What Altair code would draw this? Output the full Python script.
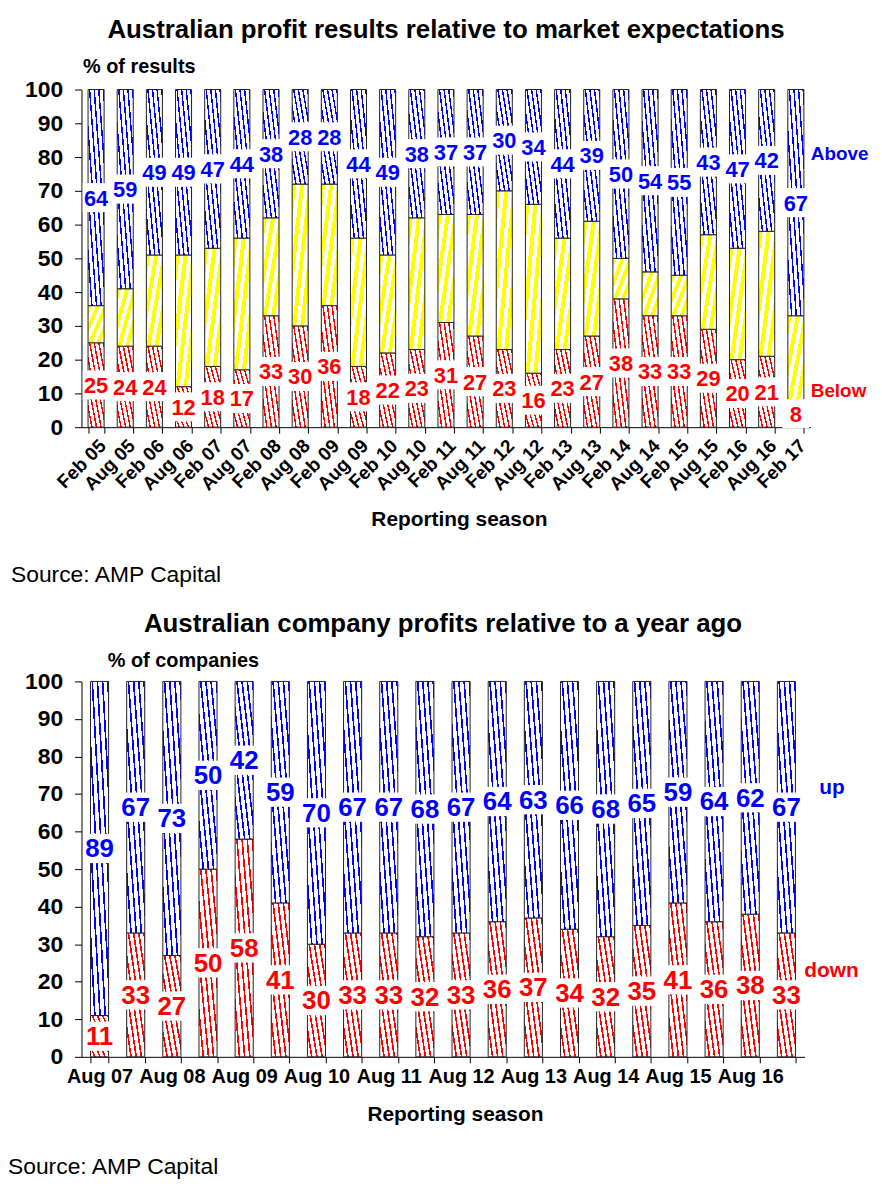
import altair as alt
import pandas as pd

FONT = "Liberation Sans"
BLUE = "#0000FF"
RED = "#FF0000"
YELLOW = "#FFFF00"

# ---------------- data: top chart ----------------
top_seasons = ["Feb 05", "Aug 05", "Feb 06", "Aug 06", "Feb 07", "Aug 07", "Feb 08",
               "Aug 08", "Feb 09", "Aug 09", "Feb 10", "Aug 10", "Feb 11", "Aug 11",
               "Feb 12", "Aug 12", "Feb 13", "Aug 13", "Feb 14", "Aug 14", "Feb 15",
               "Aug 15", "Feb 16", "Aug 16", "Feb 17"]
top_below = [25, 24, 24, 12, 18, 17, 33, 30, 36, 18, 22, 23, 31, 27, 23, 16, 23, 27,
             38, 33, 33, 29, 20, 21, 8]
top_inline = [11, 17, 27, 39, 35, 39, 29, 42, 36, 38, 29, 39, 32, 36, 47, 50, 33, 34,
              12, 13, 12, 28, 33, 37, 25]
top_above = [64, 59, 49, 49, 47, 44, 38, 28, 28, 44, 49, 38, 37, 37, 30, 34, 44, 39,
             50, 54, 55, 43, 47, 42, 67]

# ---------------- data: bottom chart ----------------
bot_seasons = ["Aug 07", "Feb 08", "Aug 08", "Feb 09", "Aug 09", "Feb 10", "Aug 10",
               "Feb 11", "Aug 11", "Feb 12", "Aug 12", "Feb 13", "Aug 13", "Feb 14",
               "Aug 14", "Feb 15", "Aug 15", "Feb 16", "Aug 16", "Feb 17"]
bot_down = [11, 33, 27, 50, 58, 41, 30, 33, 33, 32, 33, 36, 37, 34, 32, 35, 41, 36, 38, 33]
bot_up = [89, 67, 73, 50, 42, 59, 70, 67, 67, 68, 67, 64, 63, 66, 68, 65, 59, 64, 62, 67]

top_df = pd.DataFrame({"season": top_seasons, "below": top_below,
                       "inline": top_inline, "above": top_above})
bot_df = pd.DataFrame({"season": bot_seasons, "down": bot_down, "up": bot_up})


def hatch(color, n, frac, slash):
    stops = []
    for k in range(n):
        a = k / n
        b = (k + frac) / n
        c = (k + 1) / n
        stops += [{"offset": a, "color": color}, {"offset": b, "color": color},
                  {"offset": b, "color": "white"}, {"offset": c, "color": "white"}]
    if slash:
        x1, y1, x2, y2 = 0, 0, 1, 1
    else:
        x1, y1, x2, y2 = 1, 0, 0, 1
    return {"gradient": "linear", "x1": x1, "y1": y1, "x2": x2, "y2": y2, "stops": stops}


BLUE_H = hatch(BLUE, 7, 0.32, False)
RED_H = hatch(RED, 7, 0.32, False)
YEL_H = hatch(YELLOW, 4, 0.5, True)


def y_axis(title, tx, ty):
    return alt.Axis(values=list(range(0, 101, 10)), grid=False, labelFont=FONT,
                    labelFontSize=23, labelFontWeight="bold", labelColor="black",
                    tickSize=7, labelPadding=12, domainColor="black", tickColor="black",
                    title=title, titleAngle=0, titleAlign="left", titleBaseline="alphabetic",
                    titleX=tx, titleY=ty, titleFont=FONT, titleFontSize=20,
                    titleFontWeight="bold", titleColor="black")


# ================= TOP CHART =================
TW, TH = 734, 340
tx_scale = alt.Scale(domain=top_seasons, paddingInner=0.45, paddingOuter=0.225)
tx_axis = alt.Axis(labelAngle=-45, labelFont=FONT, labelFontSize=19, labelFontWeight="bold",
                   labelColor="black", tickBand="extent", tickSize=6, labelPadding=3,
                   domainColor="black", tickColor="black", labelOverlap=False,
                   title="Reporting season", titleFont=FONT, titleFontSize=21,
                   titleFontWeight="bold", titleColor="black", titleY=99,
                   titleBaseline="alphabetic", titleX=TW / 2 + 13)
ty_scale = alt.Scale(domain=[0, 100], nice=False)
ty_axis = y_axis("% of results", 1, -17)

tbase = alt.Chart(top_df).encode(x=alt.X("season:N", scale=tx_scale, axis=tx_axis))


def ty(field):
    return alt.Y(field, scale=ty_scale, axis=ty_axis)


t_red = tbase.transform_calculate(lo="0", hi="datum.below").mark_bar(
    fill=RED_H, stroke="#222", strokeWidth=1).encode(y=ty("lo:Q"), y2="hi:Q")
t_yel = tbase.transform_calculate(lo="datum.below", hi="datum.below + datum.inline").mark_bar(
    fill=YEL_H, stroke="#222", strokeWidth=1).encode(y=ty("lo:Q"), y2="hi:Q")
t_blu = tbase.transform_calculate(lo="datum.below + datum.inline",
                                  hi="datum.below + datum.inline + datum.above").mark_bar(
    fill=BLUE_H, stroke="#222", strokeWidth=1).encode(y=ty("lo:Q"), y2="hi:Q")

TB = 4.3
t_box_lo = tbase.transform_calculate(m="datum.below / 2").transform_calculate(
    b0=f"datum.m - {TB}", b1=f"datum.m + {TB}").mark_bar(
    width=27, fill="white").encode(y=ty("b0:Q"), y2="b1:Q")
t_box_hi = tbase.transform_calculate(
    m="datum.below + datum.inline + datum.above / 2").transform_calculate(
    b0=f"datum.m - {TB}", b1=f"datum.m + {TB}").mark_bar(
    width=27, fill="white").encode(y=ty("b0:Q"), y2="b1:Q")
t_txt_lo = tbase.transform_calculate(m="datum.below / 2").mark_text(
    font=FONT, fontSize=22, fontWeight="bold", color=RED, baseline="middle", dy=1).encode(
    y=ty("m:Q"), text="below:Q")
t_txt_hi = tbase.transform_calculate(
    m="datum.below + datum.inline + datum.above / 2").mark_text(
    font=FONT, fontSize=22, fontWeight="bold", color=BLUE, baseline="middle", dy=1).encode(
    y=ty("m:Q"), text="above:Q")

t_ann_df = pd.DataFrame({"lab": ["Above", "Below"], "v": [81, 10.6], "c": ["a", "b"]})
t_ann = alt.Chart(t_ann_df).mark_text(font=FONT, fontSize=19, fontWeight="bold",
                                      align="left", baseline="middle", dx=15).encode(
    x=alt.X(datum="Feb 17", scale=tx_scale, axis=tx_axis),
    y=ty("v:Q"), text="lab:N",
    color=alt.Color("c:N", scale=alt.Scale(domain=["a", "b"], range=[BLUE, RED]), legend=None))

src_df = pd.DataFrame({"t": ["Source: AMP Capital"]})
t_src = alt.Chart(src_df).mark_text(font=FONT, fontSize=23, align="left",
                                    baseline="alphabetic", color="black").encode(
    x=alt.value(-71), y=alt.value(496), text="t:N")

top = alt.layer(t_red, t_yel, t_blu, t_box_lo, t_box_hi, t_txt_lo, t_txt_hi, t_ann, t_src).properties(
    width=TW, height=TH,
    title=alt.TitleParams("Australian profit results relative to market expectations",
                          font=FONT, fontSize=26, fontWeight="bold", color="black", offset=14))

# ================= BOTTOM CHART =================
BW, BH = 728, 378
bx_scale = alt.Scale(domain=bot_seasons, paddingInner=0.5, paddingOuter=0.25)
bx_axis = alt.Axis(labelAngle=0, labelFont=FONT, labelFontSize=20, labelFontWeight="bold",
                   labelColor="black", tickBand="extent", tickSize=6, labelPadding=4,
                   domainColor="black", tickColor="black", labelOverlap=False,
                   labelExpr="indexof(datum.label, 'Aug') == 0 ? datum.label : ''",
                   title="Reporting season", titleFont=FONT, titleFontSize=21,
                   titleFontWeight="bold", titleColor="black", titleY=64,
                   titleBaseline="alphabetic", titleX=BW / 2 + 12)
by_scale = alt.Scale(domain=[0, 100], nice=False)
by_axis = y_axis("% of companies", 26, -15)

bbase = alt.Chart(bot_df).encode(x=alt.X("season:N", scale=bx_scale, axis=bx_axis))


def by(field):
    return alt.Y(field, scale=by_scale, axis=by_axis)


b_red = bbase.transform_calculate(lo="0", hi="datum.down").mark_bar(
    fill=RED_H, stroke="#222", strokeWidth=1).encode(y=by("lo:Q"), y2="hi:Q")
b_blu = bbase.transform_calculate(lo="datum.down", hi="datum.down + datum.up").mark_bar(
    fill=BLUE_H, stroke="#222", strokeWidth=1).encode(y=by("lo:Q"), y2="hi:Q")

BB = 3.9
b_box_lo = bbase.transform_calculate(m="datum.down / 2").transform_calculate(
    b0=f"datum.m - {BB}", b1=f"datum.m + {BB}").mark_bar(
    width=31, fill="white").encode(y=by("b0:Q"), y2="b1:Q")
b_box_hi = bbase.transform_calculate(m="datum.down + datum.up / 2").transform_calculate(
    b0=f"datum.m - {BB}", b1=f"datum.m + {BB}").mark_bar(
    width=31, fill="white").encode(y=by("b0:Q"), y2="b1:Q")
b_txt_lo = bbase.transform_calculate(m="datum.down / 2").mark_text(
    font=FONT, fontSize=26, fontWeight="bold", color=RED, baseline="middle", dy=1).encode(
    y=by("m:Q"), text="down:Q")
b_txt_hi = bbase.transform_calculate(m="datum.down + datum.up / 2").mark_text(
    font=FONT, fontSize=26, fontWeight="bold", color=BLUE, baseline="middle", dy=1).encode(
    y=by("m:Q"), text="up:Q")

b_ann_df = pd.DataFrame({"lab": ["up", "down"], "v": [71.7, 22.8]})
b_ann_up = alt.Chart(b_ann_df.iloc[[0]]).mark_text(
    font=FONT, fontSize=21, fontWeight="bold", align="left", baseline="middle", dx=33,
    color=BLUE).encode(x=alt.X(datum="Feb 17", scale=bx_scale, axis=bx_axis),
                       y=by("v:Q"), text="lab:N")
b_ann_dn = alt.Chart(b_ann_df.iloc[[1]]).mark_text(
    font=FONT, fontSize=21, fontWeight="bold", align="left", baseline="middle", dx=18,
    color=RED).encode(x=alt.X(datum="Feb 17", scale=bx_scale, axis=bx_axis),
                      y=by("v:Q"), text="lab:N")

b_src = alt.Chart(src_df).mark_text(font=FONT, fontSize=23, align="left",
                                    baseline="alphabetic", color="black").encode(
    x=alt.value(-74), y=alt.value(496), text="t:N")

bottom = alt.layer(b_red, b_blu, b_box_lo, b_box_hi, b_txt_lo, b_txt_hi,
                   b_ann_up, b_ann_dn, b_src).properties(
    width=BW, height=BH,
    title=alt.TitleParams("Australian company profits relative to a year ago",
                          font=FONT, fontSize=26, fontWeight="bold", color="black", offset=14))

chart = alt.vconcat(top, bottom, spacing=24).properties(
    padding={"left": 0, "top": 5, "right": 5, "bottom": 5}
).configure_view(stroke=None).configure_axis(grid=False)

chart.save("out.html", embed_options={"renderer": "svg", "actions": False})
